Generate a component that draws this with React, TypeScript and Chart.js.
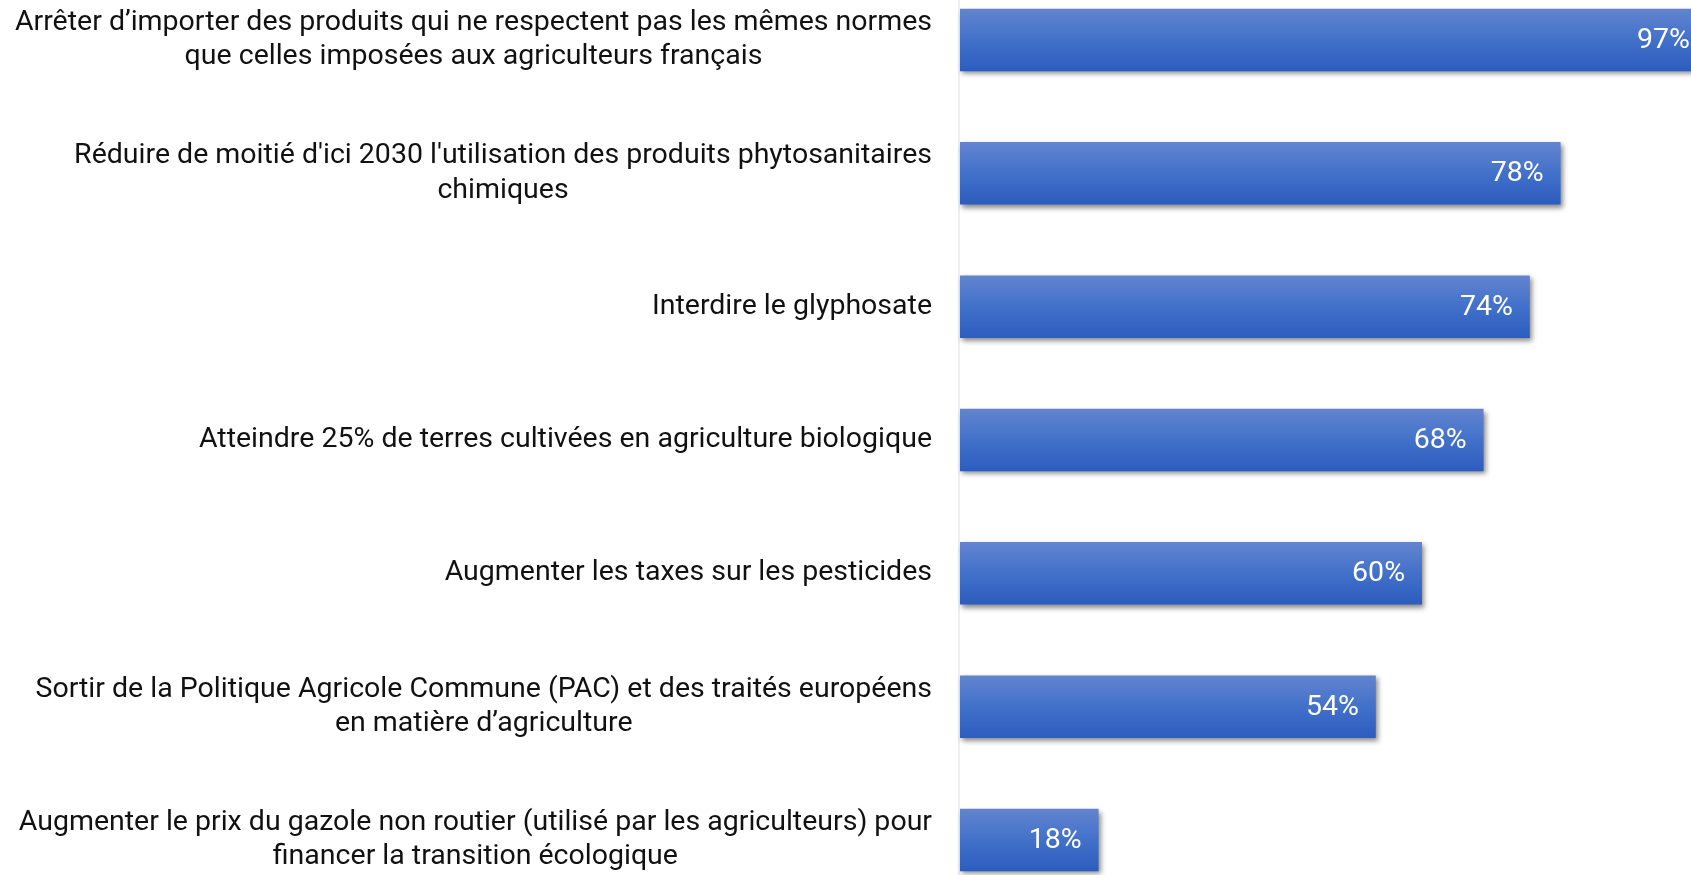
import React, { useEffect, useRef } from "react";
import { Chart, registerables } from "chart.js";

Chart.register(...registerables);

const categories: string[][] = [
  ["Arrêter d’importer des produits qui ne respectent pas les mêmes normes", "que celles imposées aux agriculteurs français"],
  ["Réduire de moitié d'ici 2030 l'utilisation des produits phytosanitaires", "chimiques"],
  ["Interdire le glyphosate"],
  ["Atteindre 25% de terres cultivées en agriculture biologique"],
  ["Augmenter les taxes sur les pesticides"],
  ["Sortir de la Politique Agricole Commune (PAC) et des traités européens", "en matière d’agriculture"],
  ["Augmenter le prix du gazole non routier (utilisé par les agriculteurs) pour", "financer la transition écologique"],
];

const values: number[] = [97, 78, 74, 68, 60, 54, 18];
const valueLabels: string[] = values.map((v) => `${v}%`);

const LABEL_FONT = '28.5px Roboto';
const VALUE_FONT = '28.5px Roboto';

export default function App() {
  const ref = useRef<HTMLCanvasElement>(null);

  useEffect(() => {
    document.body.style.margin = "0";
    const canvas = ref.current;
    if (!canvas) return;

    const plugin = {
      id: "customDraw",
      beforeDatasetsDraw(chart: any) {
        const { ctx, chartArea } = chart;
        ctx.save();
        ctx.strokeStyle = "#efefef";
        ctx.lineWidth = 2;
        ctx.beginPath();
        ctx.moveTo(chartArea.left - 1, 0);
        ctx.lineTo(chartArea.left - 1, chart.height);
        ctx.stroke();
        ctx.restore();
      },
      beforeDatasetDraw(chart: any) {
        const ctx = chart.ctx;
        ctx.save();
        ctx.shadowColor = "rgba(0,0,0,0.45)";
        ctx.shadowBlur = 5;
        ctx.shadowOffsetX = 2;
        ctx.shadowOffsetY = 3;
      },
      afterDatasetDraw(chart: any) {
        chart.ctx.restore();
      },
      afterDatasetsDraw(chart: any) {
        const { ctx, chartArea } = chart;
        const yScale = chart.scales.y;
        ctx.save();
        ctx.font = LABEL_FONT;
        ctx.fillStyle = "#111111";
        ctx.textAlign = "center";
        ctx.textBaseline = "middle";
        const rightEdge = chartArea.left - 28;
        const lineH = 34.5;
        (chart.data.labels as string[][]).forEach((lines, i) => {
          const yc = yScale.getPixelForValue(i);
          let w = 0;
          lines.forEach((l) => {
            w = Math.max(w, ctx.measureText(l).width);
          });
          const xc = rightEdge - w / 2;
          lines.forEach((l, j) => {
            ctx.fillText(l, xc, yc + (j - (lines.length - 1) / 2) * lineH);
          });
        });
        ctx.restore();
        ctx.save();
        ctx.font = VALUE_FONT;
        ctx.fillStyle = "#ffffff";
        ctx.textAlign = "right";
        ctx.textBaseline = "middle";
        const meta = chart.getDatasetMeta(0);
        meta.data.forEach((el: any, i: number) => {
          ctx.fillText(valueLabels[i], el.x - 17, el.y + 1);
        });
        ctx.restore();
      },
    };

    const chart = new Chart(canvas, {
      type: "bar",
      data: {
        labels: categories as any,
        datasets: [
          {
            data: values,
            clip: false as any,
            barPercentage: 0.4687,
            categoryPercentage: 1,
            borderWidth: 0,
            backgroundColor: (c: any) => {
              const ch = c.chart;
              if (!ch.chartArea || c.dataIndex === undefined) return "#4472C4";
              const y = ch.scales.y.getPixelForValue(c.dataIndex);
              const h = 31.25;
              const g = ch.ctx.createLinearGradient(0, y - h, 0, y + h);
              g.addColorStop(0, "#6384CF");
              g.addColorStop(0.5, "#4271CA");
              g.addColorStop(1, "#2C5CBE");
              return g;
            },
          },
        ],
      },
      options: {
        indexAxis: "y",
        animation: false,
        responsive: false,
        devicePixelRatio: 1,
        layout: { padding: { left: 960, right: 10, top: 40, bottom: 35 } },
        plugins: {
          legend: { display: false },
          tooltip: { enabled: false },
        },
        scales: {
          x: { display: false, min: 0, max: 100 },
          y: { display: false, offset: false },
        },
      },
      plugins: [plugin],
    });

    return () => chart.destroy();
  }, []);

  return (
    <div
      style={{
        position: "absolute",
        left: 0,
        top: 0,
        width: 1691,
        height: 875,
        overflow: "hidden",
        background: "#ffffff",
      }}
    >
      <canvas ref={ref} width={1740} height={875} style={{ display: "block", width: 1740, height: 875 }} />
    </div>
  );
}
